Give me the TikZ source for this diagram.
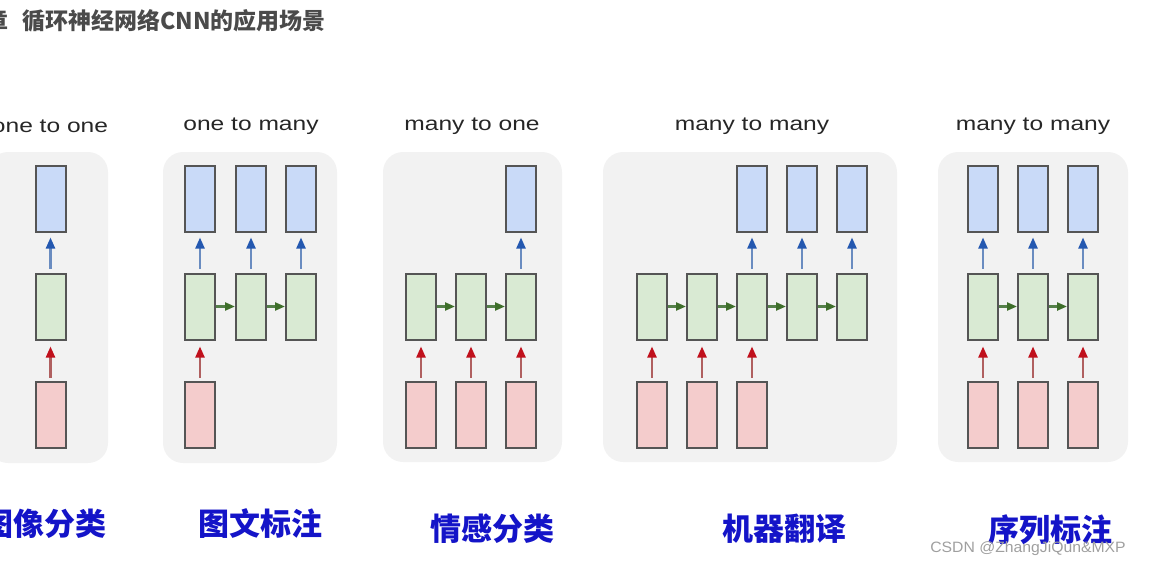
\documentclass[tikz,border=0pt]{standalone}
\usepackage{fontspec}
\setmainfont{Liberation Sans}
\newfontfamily\cjk{Noto Sans CJK SC}
\usetikzlibrary{arrows.meta}
\definecolor{panel}{HTML}{F2F2F2}
\definecolor{edge}{HTML}{555555}
\definecolor{bluefill}{HTML}{C9DAF8}
\definecolor{greenfill}{HTML}{D9EAD3}
\definecolor{redfill}{HTML}{F4CCCC}
\definecolor{blueshaft}{HTML}{6A8CC0}
\definecolor{bluehead}{HTML}{2458B0}
\definecolor{greenshaft}{HTML}{55804A}
\definecolor{greenhead}{HTML}{3E6E2A}
\definecolor{redshaft}{HTML}{B06060}
\definecolor{redhead}{HTML}{C0101C}
\definecolor{labelblue}{HTML}{1414C8}
\definecolor{titlegray}{HTML}{4A4A4A}
\definecolor{captiongray}{HTML}{262626}
\tikzset{
  cell/.style={draw=edge, line width=2pt, minimum width=30pt, minimum height=66pt, inner sep=0pt},
  outb/.style={cell, fill=bluefill},
  hid/.style={cell, fill=greenfill},
  inp/.style={cell, fill=redfill},
  upblue/.style={draw=blueshaft, line width=2.2pt, -{Triangle[length=11pt,width=9pt,color=bluehead]}, shorten <=4pt, shorten >=5pt},
  upred/.style={draw=redshaft, line width=2.2pt, -{Triangle[length=11pt,width=9pt,color=redhead]}, shorten <=3pt, shorten >=6pt},
  rec/.style={draw=greenshaft, line width=2.2pt, -{Triangle[length=10pt,width=8pt,color=greenhead]}},
  bg/.style={fill=panel, rounded corners=20pt},
  caption/.style={text=captiongray, font=\fontsize{19.5}{22}\selectfont, inner sep=0pt},
  label/.style={text=labelblue, font=\cjk\bfseries\fontsize{31}{34}\selectfont, inner sep=0pt},
}
\begin{document}
\begin{tikzpicture}[x=1pt, y=-1pt]
\useasboundingbox (0,0) rectangle (1156,570);
\clip (0,0) rectangle (1156,570);

% title
\node[anchor=west, inner sep=0pt, text=titlegray, font=\cjk\bfseries\fontsize{23}{25}\selectfont] (title) at (-15,21) {章\hspace{14pt}循环神经网络CNN的应用场景};

% panel backgrounds
\fill[bg] (-12,152) rectangle (108,463);
\fill[bg] (163,152) rectangle (337,463);
\fill[bg] (383,152) rectangle (562,462);
\fill[bg] (603,152) rectangle (897,462);
\fill[bg] (938,152) rectangle (1128,462);

% captions
\node[caption] (c1) at (50,126) {\scalebox{1.26}[1]{one to one}};
\node[caption] (c2) at (251,126) {\scalebox{1.26}[1]{one to many}};
\node[caption] (c3) at (472,126) {\scalebox{1.26}[1]{many to one}};
\node[caption] (c4) at (752,126) {\scalebox{1.26}[1]{many to many}};
\node[caption] (c5) at (1033,126) {\scalebox{1.26}[1]{many to many}};

% panel 1: one to one
\node[outb] (b11) at (50.5,198.5) {};
\node[hid]  (h11) at (50.5,306.5) {};
\node[inp]  (x11) at (50.5,414.5) {};
\draw[upblue] (h11.north) -- (b11.south);
\draw[upred] (x11.north) -- (h11.south);

% panel 2: one to many
\foreach \i/\x in {1/200,2/251,3/301}{
  \node[outb] (b2\i) at (\x,198.5) {};
  \node[hid]  (h2\i) at (\x,306.5) {};
  \draw[upblue] (h2\i.north) -- (b2\i.south);
}
\node[inp] (x21) at (200,414.5) {};
\draw[upred] (x21.north) -- (h21.south);
\draw[rec] (h21.east) -- (h22.west);
\draw[rec] (h22.east) -- (h23.west);

% panel 3: many to one
\foreach \i/\x in {1/421,2/471,3/521}{
  \node[hid] (h3\i) at (\x,306.5) {};
  \node[inp] (x3\i) at (\x,414.5) {};
  \draw[upred] (x3\i.north) -- (h3\i.south);
}
\node[outb] (b33) at (521,198.5) {};
\draw[upblue] (h33.north) -- (b33.south);
\draw[rec] (h31.east) -- (h32.west);
\draw[rec] (h32.east) -- (h33.west);

% panel 4: many to many (encoder-decoder)
\foreach \i/\x in {1/652,2/702,3/752,4/802,5/852}{
  \node[hid] (h4\i) at (\x,306.5) {};
}
\foreach \i/\x in {1/652,2/702,3/752}{
  \node[inp] (x4\i) at (\x,414.5) {};
  \draw[upred] (x4\i.north) -- (h4\i.south);
}
\foreach \i/\x in {3/752,4/802,5/852}{
  \node[outb] (b4\i) at (\x,198.5) {};
  \draw[upblue] (h4\i.north) -- (b4\i.south);
}
\draw[rec] (h41.east) -- (h42.west);
\draw[rec] (h42.east) -- (h43.west);
\draw[rec] (h43.east) -- (h44.west);
\draw[rec] (h44.east) -- (h45.west);

% panel 5: many to many (synced)
\foreach \i/\x in {1/983,2/1033,3/1083}{
  \node[outb] (b5\i) at (\x,198.5) {};
  \node[hid]  (h5\i) at (\x,306.5) {};
  \node[inp]  (x5\i) at (\x,414.5) {};
  \draw[upblue] (h5\i.north) -- (b5\i.south);
  \draw[upred] (x5\i.north) -- (h5\i.south);
}
\draw[rec] (h51.east) -- (h52.west);
\draw[rec] (h52.east) -- (h53.west);

% Chinese labels
\node[label] (l1) at (45,524) {图像分类};
\node[label] (l2) at (260,524) {图文标注};
\node[label] (l3) at (492,529) {情感分类};
\node[label] (l4) at (784,529) {机器翻译};
\node[label] (l5) at (1050,530) {序列标注};

% watermark
\node[text=gray!75, font=\fontsize{15}{17}\selectfont, inner sep=0pt] (wm) at (1028,549) {\scalebox{1.05}[1]{CSDN @ZhangJiQun\&MXP}};
\end{tikzpicture}
\end{document}
